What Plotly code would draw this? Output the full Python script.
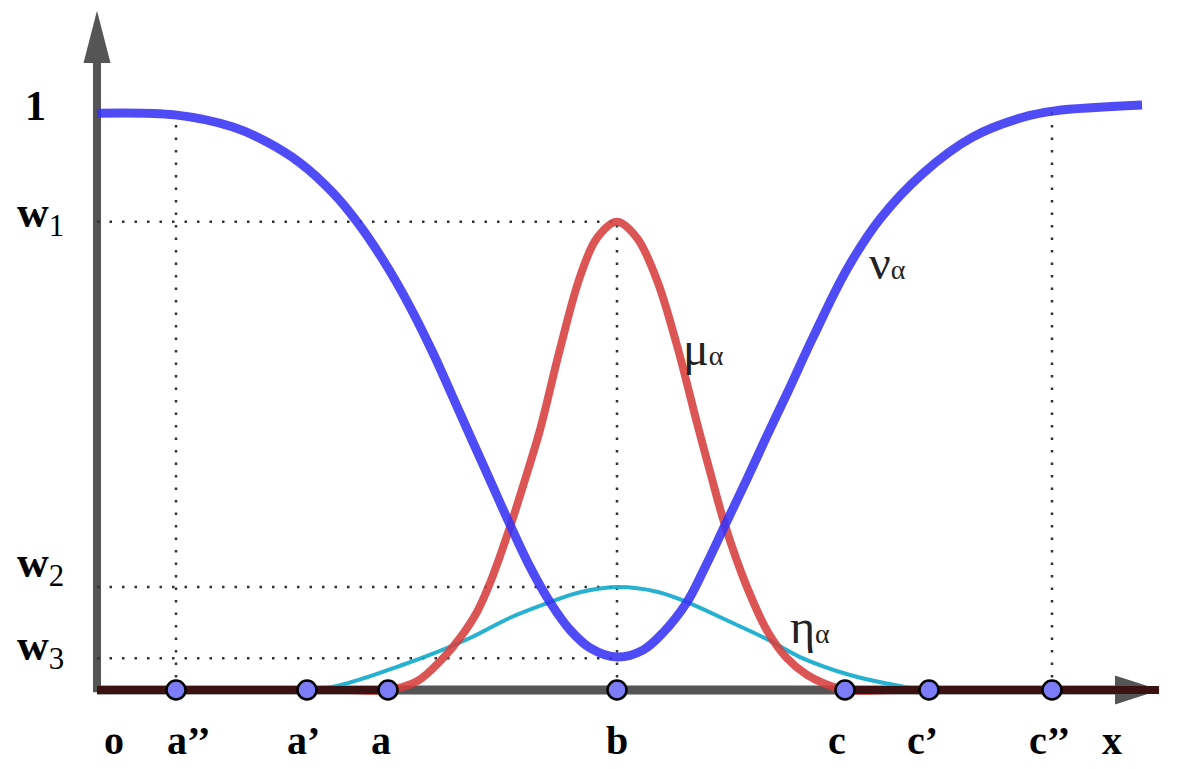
import plotly.graph_objects as go

# positions of the marked points on the x axis (1 unit = 100 px in the picture)
pt_names = ['a’’', 'a’', 'a', 'b', 'c', 'c’', 'c’’']
pt_x = [0.79, 2.10, 2.91, 5.20, 7.48, 8.32, 9.55]

# levels on the y axis
w1 = 0.81
w2 = 0.178
w3 = 0.055

# nu_alpha (blue)
nu_x = [0.00, 0.78, 1.36, 1.70, 2.03, 2.36, 2.60, 2.86, 3.13, 3.36, 3.55, 3.73, 3.93, 4.13, 4.33, 4.53, 4.73, 4.93, 5.20,
        5.46, 5.66, 5.90, 6.06, 6.28, 6.50, 6.70, 6.90, 7.16, 7.50, 7.83, 8.26, 8.76, 9.26, 9.58, 10.45]
nu_y = [0.998, 0.995, 0.974, 0.948, 0.912, 0.860, 0.810, 0.744, 0.663, 0.583, 0.510, 0.440, 0.363, 0.286, 0.213, 0.152, 0.104, 0.073, 0.057,
        0.069, 0.099, 0.152, 0.205, 0.285, 0.365, 0.440, 0.513, 0.610, 0.728, 0.815, 0.894, 0.957, 0.991, 1.002, 1.012]

# mu_alpha (red)
mu_x = [0.00, 1.00, 2.00, 2.50, 2.91, 3.20, 3.46, 3.63, 3.80, 3.93, 4.13, 4.30, 4.43, 4.63, 4.83, 5.00, 5.20,
        5.40, 5.60, 5.80, 6.00, 6.13, 6.28, 6.50, 6.71, 6.90, 7.10, 7.26, 7.48, 8.00, 9.00, 10.62]
mu_y = [0.000, 0.000, 0.000, 0.000, 0.000, 0.015, 0.055, 0.090, 0.135, 0.185, 0.282, 0.375, 0.450, 0.590, 0.715, 0.782, 0.810,
        0.782, 0.709, 0.596, 0.462, 0.378, 0.285, 0.178, 0.100, 0.055, 0.026, 0.012, 0.000, 0.000, 0.000, 0.000]

# eta_alpha (cyan)
eta_x = [2.10, 2.40, 2.70, 3.00, 3.36, 3.73, 4.13, 4.53, 4.83, 5.20, 5.60, 5.90, 6.33, 6.71, 7.03, 7.53, 8.03, 8.32, 8.80]
eta_y = [0.000, 0.007, 0.022, 0.040, 0.063, 0.090, 0.125, 0.152, 0.169, 0.178, 0.170, 0.152, 0.118, 0.087, 0.057, 0.026, 0.007, 0.000, 0.000]

x_end = 10.62
dotcol = '#333333'
dot = '2.5px,10px'

fig = go.Figure()

# dotted guide lines
guides = [([0, pt_x[3]], [w1, w1]),
          ([0, pt_x[3]], [w2, w2]),
          ([0, pt_x[3]], [w3, w3]),
          ([pt_x[0], pt_x[0]], [0, nu_y[1]]),
          ([pt_x[3], pt_x[3]], [0, w1]),
          ([pt_x[6], pt_x[6]], [0, nu_y[-2]])]
for gx, gy in guides:
    fig.add_trace(go.Scatter(x=gx, y=gy, mode='lines',
                             line={'color': dotcol, 'width': 2.5, 'dash': dot},
                             hoverinfo='skip'))

fig.add_trace(go.Scatter(x=eta_x, y=eta_y, mode='lines', name='η',
                         line={'color': 'rgba(20,170,205,0.92)', 'width': 4, 'shape': 'spline'}))
fig.add_trace(go.Scatter(x=mu_x, y=mu_y, mode='lines', name='μ',
                         line={'color': 'rgba(215,62,62,0.88)', 'width': 8, 'shape': 'spline'}))
fig.add_trace(go.Scatter(x=nu_x, y=nu_y, mode='lines', name='ν',
                         line={'color': 'rgba(55,50,245,0.88)', 'width': 9, 'shape': 'spline'}))

# dark parts of the x axis where the red curve lies on it
for sx in ([0, pt_x[2]], [pt_x[4], x_end]):
    fig.add_trace(go.Scatter(x=sx, y=[0, 0], mode='lines',
                             line={'color': '#3a1212', 'width': 8}, hoverinfo='skip'))

fig.add_trace(go.Scatter(x=pt_x, y=[0] * len(pt_x), mode='markers',
                         marker={'size': 19, 'color': '#7b7cf6',
                                 'line': {'color': 'black', 'width': 2.5}}))

# axes with arrow heads
fig.add_shape(type='line', x0=0, x1=0, y0=-0.004, y1=1.09, layer='below',
              line={'color': '#555555', 'width': 8})
fig.add_shape(type='path', path='M -0.135,1.085 L 0.135,1.085 L 0,1.175 Z', layer='below',
              fillcolor='#555555', line={'width': 0})
fig.add_shape(type='line', x0=0, x1=10.22, y0=0, y1=0, layer='below',
              line={'color': '#555555', 'width': 9})
fig.add_shape(type='path', path='M 10.18,-0.025 L 10.18,0.025 L 10.63,0 Z', layer='below',
              fillcolor='#555555', line={'width': 0})

lab_font = {'family': 'Liberation Serif', 'size': 40, 'color': 'black'}
shifts = [13, -4, -7, 0, -8, -7, -3]
for name, px, sh in zip(pt_names, pt_x, shifts):
    fig.add_annotation(x=px, y=-0.087, text='<b>' + name + '</b>', showarrow=False,
                       xanchor='center', yanchor='middle', xshift=sh, font=lab_font)
fig.add_annotation(x=0.17, y=-0.087, text='<b>o</b>', showarrow=False,
                   xanchor='center', yanchor='middle', font=lab_font)
fig.add_annotation(x=10.15, y=-0.087, text='<b>x</b>', showarrow=False,
                   xanchor='center', yanchor='middle', font=lab_font)

fig.add_annotation(x=-0.62, y=1.0, text='<b>1</b>', showarrow=False, yshift=6,
                   xanchor='center', yanchor='middle',
                   font={'family': 'Liberation Serif', 'size': 42, 'color': 'black'})
for lev, sub, ys in ((w1, '1', 6), (w2, '2', 22), (w3, '3', 10)):
    fig.add_annotation(x=-0.57, y=lev, text='<b>w</b><sub>' + sub + '</sub>', showarrow=False,
                       xanchor='center', yanchor='middle', yshift=ys,
                       font={'family': 'Liberation Serif', 'size': 44, 'color': 'black'})

gfont = {'family': 'Liberation Serif', 'size': 48, 'color': '#222222'}
alpha = '<span style="font-size:28px">α</span>'
fig.add_annotation(x=7.90, y=0.739, text='ν' + alpha, showarrow=False, font=gfont)
fig.add_annotation(x=6.06, y=0.590, text='μ' + alpha, showarrow=False, font=gfont)
fig.add_annotation(x=7.13, y=0.110, text='η' + alpha, showarrow=False, font=gfont)

fig.update_layout(width=1200, height=769,
                  margin={'l': 0, 'r': 0, 't': 0, 'b': 0},
                  paper_bgcolor='white', plot_bgcolor='white',
                  showlegend=False,
                  xaxis={'range': [-0.97, 11.03], 'visible': False, 'fixedrange': True},
                  yaxis={'range': [-0.1367, 1.1938], 'visible': False, 'fixedrange': True})

# drop the default 8px body margin so the figure fills the window
fig.write_html('out.html', config={'displayModeBar': False},
               post_script="document.body.style.margin='0px';")
